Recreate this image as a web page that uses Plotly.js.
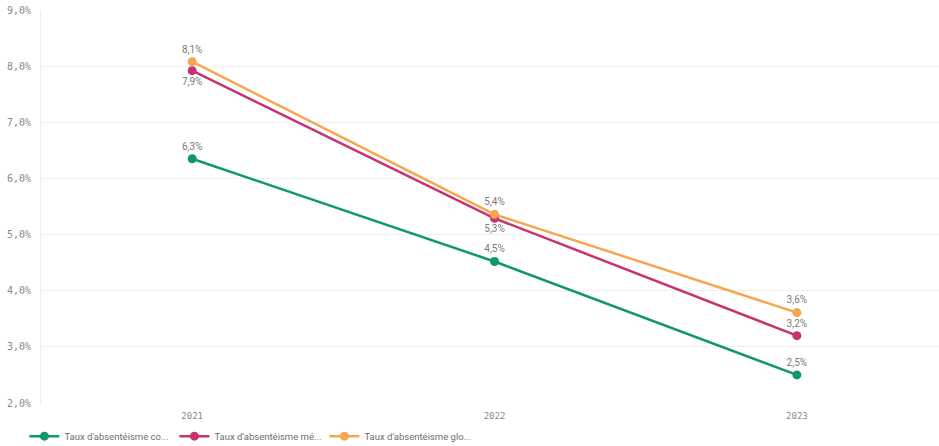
<!DOCTYPE html>
<html>
<head>
<meta charset="utf-8">
<script src="https://cdn.plot.ly/plotly-3.0.1.min.js"></script>
<style>html,body{margin:0;padding:0;background:#fff;}#chart{width:939px;height:446px;}</style>
</head>
<body>
<div id="chart"></div>
<script>
var years = ['2021', '2022', '2023'];
var seriesNames = ["Taux d'absentéisme co...", "Taux d'absentéisme mé...", "Taux d'absentéisme glo..."];
var tauxCo = [6.35, 4.52, 2.50];
var tauxMe = [7.92, 5.29, 3.20];
var tauxGlo = [8.08, 5.36, 3.61];
var yTickVals = [2, 3, 4, 5, 6, 7, 8, 9];
var yTickText = ['2,0%', '3,0%', '4,0%', '5,0%', '6,0%', '7,0%', '8,0%', '9,0%'];

var colors = ['#0f9869', '#c8336e', '#f5a64f'];
var positions = [
  ['top center', 'top center', 'top center'],
  ['bottom center', 'bottom center', 'top center'],
  ['top center', 'top center', 'top center']
];
var dataSets = [tauxCo, tauxMe, tauxGlo];

var traces = dataSets.map(function (vals, i) {
  return {
    x: years,
    y: vals,
    name: seriesNames[i],
    type: 'scatter',
    mode: 'lines+markers+text',
    line: {color: colors[i], width: 2.5},
    marker: {color: colors[i], size: 9},
    text: vals.map(function (v) { return v.toFixed(1).replace('.', ',') + '%'; }),
    textposition: positions[i],
    textfont: {family: 'Roboto, sans-serif', size: 10, color: '#7a7a7a'},
    cliponaxis: false,
    hoverinfo: 'x+y'
  };
});

var layout = {
  width: 939,
  height: 446,
  margin: {l: 41, r: 0, t: 10, b: 43},
  paper_bgcolor: '#ffffff',
  plot_bgcolor: '#ffffff',
  showlegend: true,
  legend: {
    orientation: 'h',
    xref: 'container',
    yref: 'container',
    x: 0.026,
    xanchor: 'left',
    y: 0.022,
    yanchor: 'middle',
    font: {family: 'Roboto, sans-serif', size: 9.5, color: '#6e6e6e'},
    itemwidth: 30,
    entrywidth: 105,
    traceorder: 'normal'
  },
  xaxis: {
    type: 'category',
    range: [-0.5, 2.47],
    showgrid: false,
    zeroline: false,
    showline: false,
    ticks: '',
    ticklabelstandoff: 6,
    tickfont: {family: 'DejaVu Sans Mono, monospace', size: 9, color: '#8a8a8a'},
    fixedrange: true
  },
  yaxis: {
    range: [2, 9],
    tickvals: yTickVals,
    ticktext: yTickText,
    showgrid: true,
    gridcolor: '#efefef',
    gridwidth: 1,
    zeroline: false,
    showline: true,
    linecolor: '#ececec',
    linewidth: 1,
    ticks: '',
    ticklabelstandoff: 7,
    tickfont: {family: 'DejaVu Sans Mono, monospace', size: 10, color: '#8a8a8a'},
    fixedrange: true
  }
};

Plotly.newPlot('chart', traces, layout, {displayModeBar: false, staticPlot: true});
</script>
</body>
</html>
